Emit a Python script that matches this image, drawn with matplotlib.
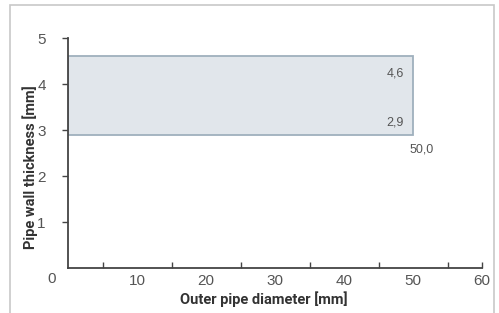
import matplotlib
matplotlib.use("Agg")
import matplotlib.pyplot as plt
from matplotlib.patches import Rectangle

# Data
range_x_min = 0.0
range_x_max = 50.0
range_y_min = 2.9
range_y_max = 4.6
x_tick_labels = [10, 20, 30, 40, 50, 60]
x_minor_ticks = [5, 15, 25, 35, 45, 55, 60]
y_tick_labels = [1, 2, 3, 4, 5]
x_label = "Outer pipe diameter [mm]"
y_label = "Pipe wall thickness [mm]"

W, H = 499, 313
fig = plt.figure(figsize=(W / 100, H / 100), dpi=100)

# Outer light frame
fig.patches.append(Rectangle((10 / W, -0.1), (494 - 10) / W, (H - 5) / H + 0.1,
                             transform=fig.transFigure, fill=False,
                             edgecolor="#c8c8c8", linewidth=1.2))

ax = fig.add_axes([68 / W, (H - 268) / H, (482 - 68) / W, (268 - 38) / H])
ax.set_xlim(0, 60)
ax.set_ylim(0, 5)

ax.bar(range_x_min, range_y_max - range_y_min, width=range_x_max - range_x_min,
       bottom=range_y_min, align="edge", color="#e1e6eb", edgecolor="#9fb0bd",
       linewidth=1.3, zorder=2)

TF = ["Liberation Sans", "DejaVu Sans"]
TC = "#555555"
lab_font = dict(family=TF, color=TC)
ax.text(range_x_max - 1.3, range_y_max - 0.38, f"{range_y_max:.1f}".replace(".", ","),
        ha="right", va="center", fontsize=9, **lab_font)
ax.text(range_x_max - 1.3, range_y_min + 0.26, f"{range_y_min:.1f}".replace(".", ","),
        ha="right", va="center", fontsize=9, **lab_font)
ax.text(range_x_max + 1.3, range_y_min - 0.33, f"{range_x_max:.1f}".replace(".", ","),
        ha="center", va="center", fontsize=9, **lab_font)

for s in ["top", "right"]:
    ax.spines[s].set_visible(False)
for s in ["left", "bottom"]:
    ax.spines[s].set_color("#444444")
    ax.spines[s].set_linewidth(1.3)

ax.set_yticks(y_tick_labels)
ax.set_yticklabels([str(v) for v in y_tick_labels])
ax.tick_params(axis="y", direction="out", length=4, width=1, color="#444444",
               pad=12, labelsize=11, labelcolor=TC)

ax.set_xticks(x_tick_labels)
ax.set_xticklabels([str(v) for v in x_tick_labels])
ax.set_xticks(x_minor_ticks, minor=True)
ax.xaxis.remove_overlapping_locs = False
ax.tick_params(axis="x", which="major", length=0, pad=4, labelsize=11,
               labelcolor=TC)
ax.tick_params(axis="x", which="minor", direction="in", length=4, width=1,
               color="#444444")
for t in ax.get_xticklabels() + ax.get_yticklabels():
    t.set_family(TF)

fig.text(52 / W, 1 - 279 / H, "0", ha="center", va="center", fontsize=11,
         family=TF, color=TC)

LF = ["Roboto", "DejaVu Sans"]
fig.text(264 / W, 1 - 299 / H, x_label, ha="center", va="center", fontsize=10.5,
         fontweight="bold", family=LF, color="#333333")
fig.text(30 / W, 1 - 167 / H, y_label, ha="center", va="center", fontsize=10.5,
         rotation=90, fontweight="bold", family=LF, color="#333333")

fig.savefig("out.png", dpi=100, facecolor="white")
